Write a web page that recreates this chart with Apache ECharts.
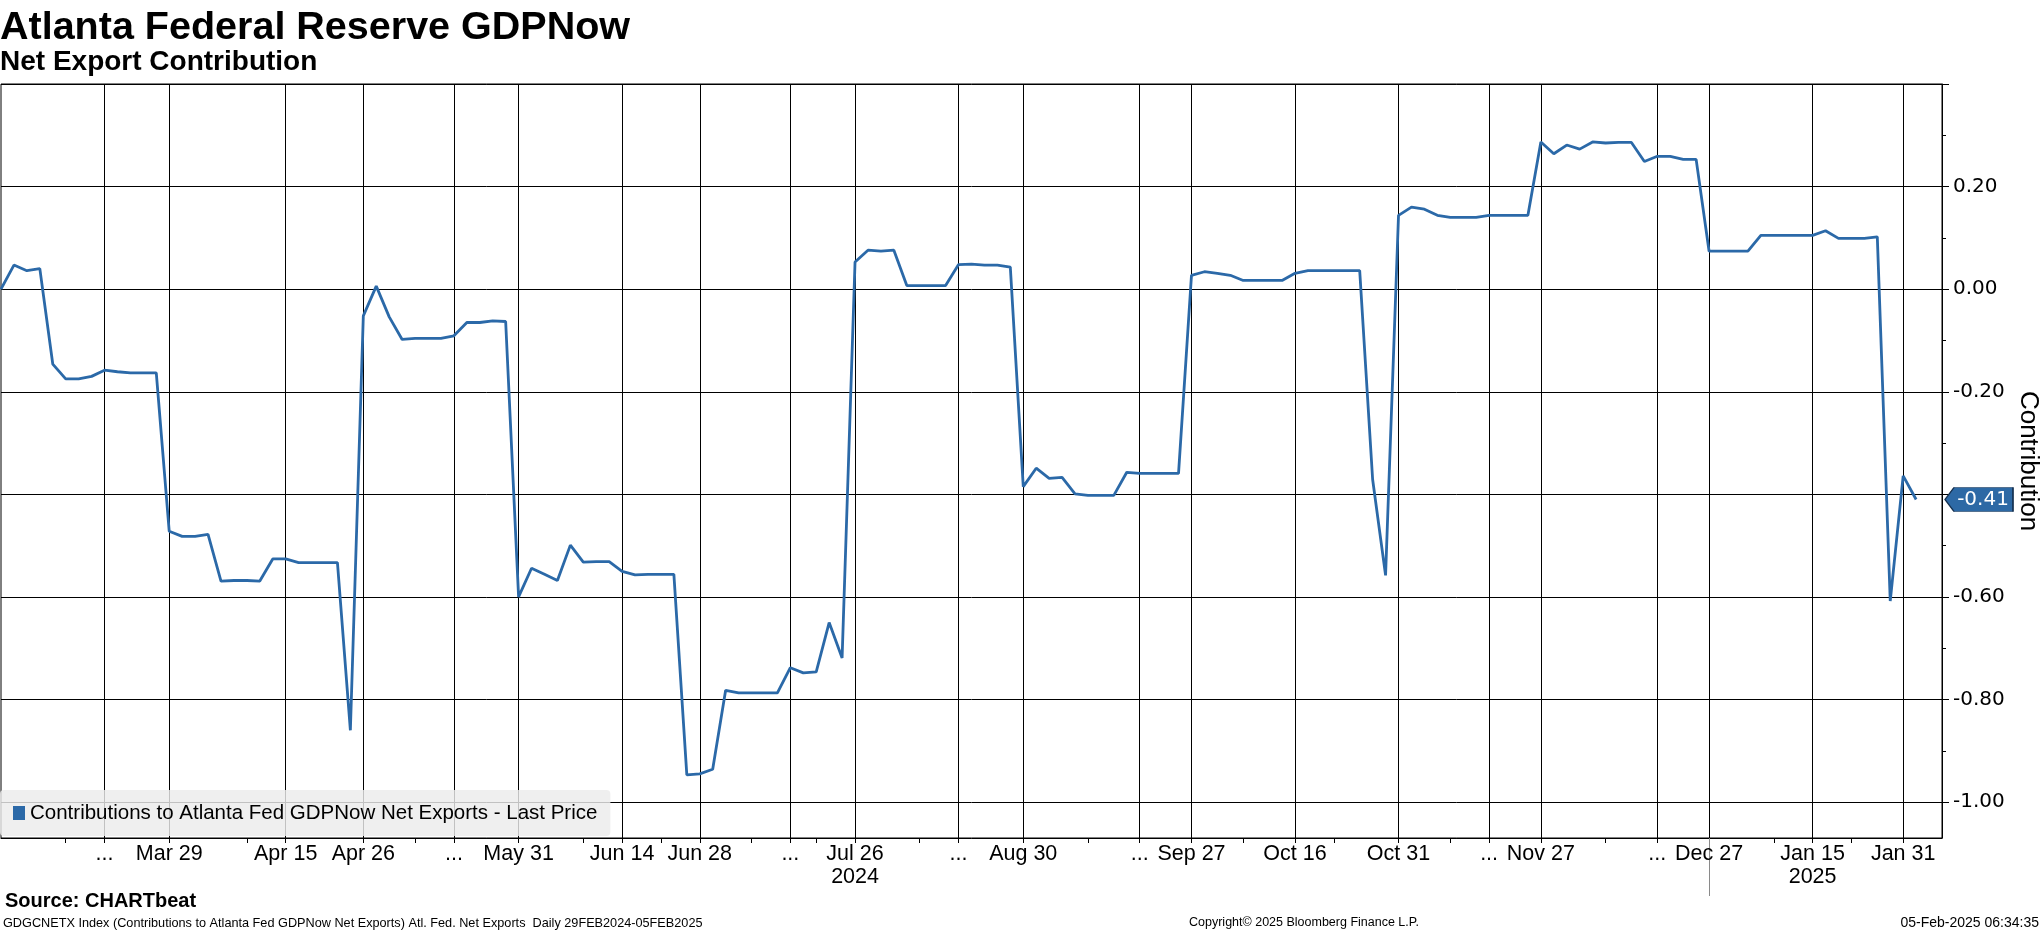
<!DOCTYPE html>
<html>
<head>
<meta charset="utf-8">
<script src="https://cdn.jsdelivr.net/npm/echarts@6/dist/echarts.min.js"></script>
<style>html,body{margin:0;padding:0;background:#fff}#chart{width:2041px;height:932px}</style>
</head>
<body>
<div id="chart"></div>
<script>
// Net export contribution (pp), one value per observation on Bloomberg's compressed daily axis
const values = [
  0.000, 0.047, 0.036, 0.040, -0.146, -0.175, -0.175, -0.170, -0.158, -0.161,
  -0.163, -0.163, -0.163, -0.472, -0.482, -0.482, -0.478, -0.569, -0.568, -0.568,
  -0.569, -0.526, -0.526, -0.533, -0.533, -0.533, -0.533, -0.860, -0.052, 0.006,
  -0.054, -0.098, -0.096, -0.096, -0.096, -0.091, -0.065, -0.065, -0.062, -0.063,
  -0.600, -0.544, -0.556, -0.568, -0.499, -0.532, -0.531, -0.531, -0.550, -0.557,
  -0.556, -0.556, -0.556, -0.947, -0.945, -0.936, -0.782, -0.787, -0.787, -0.787,
  -0.787, -0.738, -0.748, -0.746, -0.650, -0.719, 0.053, 0.076, 0.074, 0.076,
  0.007, 0.007, 0.007, 0.007, 0.048, 0.049, 0.047, 0.047, 0.043, -0.385,
  -0.349, -0.369, -0.367, -0.399, -0.402, -0.402, -0.402, -0.357, -0.359, -0.359,
  -0.359, -0.359, 0.027, 0.034, 0.031, 0.027, 0.017, 0.017, 0.017, 0.017,
  0.031, 0.036, 0.036, 0.036, 0.036, 0.036, -0.371, -0.558, 0.144, 0.160,
  0.156, 0.144, 0.140, 0.140, 0.140, 0.144, 0.144, 0.144, 0.144, 0.287,
  0.264, 0.281, 0.273, 0.287, 0.285, 0.286, 0.286, 0.249, 0.259, 0.259,
  0.253, 0.253, 0.074, 0.074, 0.074, 0.074, 0.105, 0.105, 0.105, 0.105,
  0.105, 0.114, 0.099, 0.099, 0.099, 0.102, -0.608, -0.364, -0.41
];
const lastValue = -0.41;
// x-axis: [observation index, label]
const tickLabels = [
  [8, '...'], [13, 'Mar 29'], [22, 'Apr 15'], [28, 'Apr 26'], [35, '...'],
  [40, 'May 31'], [48, 'Jun 14'], [54, 'Jun 28'], [61, '...'], [66, 'Jul 26\n2024'],
  [74, '...'], [79, 'Aug 30'], [88, '...'], [92, 'Sep 27'], [100, 'Oct 16'],
  [108, 'Oct 31'], [115, '...'], [119, 'Nov 27'], [128, '...'], [132, 'Dec 27'],
  [140, 'Jan 15\n2025'], [147, 'Jan 31']
];
const minorTicks = [5, 19, 32, 45, 51, 58, 63, 71, 84, 96, 103, 112, 124, 137, 143];
const yearBreak = 132;
const axisSlots = values.length + 2;
const yMajorTicks = [-1.0, -0.8, -0.6, -0.4, -0.2, 0.0, 0.2, 0.4];
const yTickLabels = [-1.0, -0.8, -0.6, -0.2, 0.0, 0.2];
const yMinorTicks = [-0.9, -0.7, -0.5, -0.3, -0.1, 0.1, 0.3];
const yMin = -1.07, yMax = 0.40;
const seriesName = 'Contributions to Atlanta Fed GDPNow Net Exports - Last Price';

const categories = [];
for (let i = 0; i < axisSlots; i++) categories.push(String(i));
const labelMap = new Map(tickLabels);
const minorSet = new Set(minorTicks);

const BLUE = '#2b69a8';
const SANS = "'Liberation Sans', Arial, sans-serif";
const DEJAVU = "'DejaVu Sans', Verdana, sans-serif";
const chart = echarts.init(document.getElementById('chart'), null, {renderer: 'canvas'});
chart.setOption({
  animation: false,
  backgroundColor: '#fff',
  title: [
    {text: 'Atlanta Federal Reserve GDPNow', left: 0, top: 8, padding: 0,
     textStyle: {fontFamily: SANS, fontWeight: 'bold', fontSize: 39.5, lineHeight: 39.5, color: '#000'}},
    {text: 'Net Export Contribution', left: 0, top: 48, padding: 0,
     textStyle: {fontFamily: SANS, fontWeight: 'bold', fontSize: 28, lineHeight: 28, color: '#000'}}
  ],
  graphic: [
    {type: 'text', x: 5, y: 901, style: {text: 'Source: CHARTbeat', fontFamily: SANS, fontWeight: 'bold', fontSize: 20, fill: '#000', align: 'left', verticalAlign: 'middle'}},
    {type: 'text', x: 3, y: 923, style: {text: 'GDGCNETX Index (Contributions to Atlanta Fed GDPNow Net Exports) Atl. Fed. Net Exports  Daily 29FEB2024-05FEB2025', fontFamily: SANS, fontSize: 12.7, fill: '#000', align: 'left', verticalAlign: 'middle'}},
    {type: 'text', x: 1304, y: 923, style: {text: 'Copyright\u00a9 2025 Bloomberg Finance L.P.', fontFamily: SANS, fontSize: 12.5, fill: '#000', align: 'center', verticalAlign: 'middle'}},
    {type: 'text', x: 2039, y: 923, style: {text: '05-Feb-2025 06:34:35', fontFamily: SANS, fontSize: 14, fill: '#000', align: 'right', verticalAlign: 'middle'}}
  ],
  legend: {
    left: 0, top: 790, orient: 'horizontal',
    padding: [11, 13, 11, 13],
    itemWidth: 12, itemHeight: 14, icon: 'rect',
    backgroundColor: 'rgba(236,236,236,0.82)', borderRadius: 4,
    textStyle: {fontFamily: SANS, fontSize: 20.5, lineHeight: 24, color: '#000'},
    data: [seriesName]
  },
  grid: {left: 1, right: 99, top: 84, bottom: 94, show: true, borderColor: '#000', borderWidth: 1,
         outerBoundsMode: 'none', containLabel: false},
  xAxis: [
    {
      type: 'category', data: categories, boundaryGap: false, position: 'bottom',
      axisLine: {show: true, onZero: false, lineStyle: {color: '#000', width: 1}},
      axisTick: {show: true, length: 5, lineStyle: {color: '#000'},
        interval: (i) => labelMap.has(i) || minorSet.has(i)},
      axisLabel: {show: true, margin: 5, fontFamily: SANS, fontSize: 21.5, lineHeight: 23, color: '#000',
        interval: (i) => labelMap.has(i),
        formatter: (v, i) => labelMap.get(i) || ''},
      splitLine: {show: true, lineStyle: {color: '#000', width: 1},
        interval: (i) => labelMap.has(i)}
    },
    {
      type: 'category', data: categories, boundaryGap: false, position: 'bottom',
      axisLine: {show: false, onZero: false},
      axisTick: {show: true, length: 58, lineStyle: {color: '#8a8a8a', width: 1},
        interval: (i) => i === yearBreak},
      axisLabel: {show: false},
      splitLine: {show: false}
    }
  ],
  yAxis: [
    {
      type: 'value', position: 'right', min: yMin, max: yMax,
      axisLine: {show: true, onZero: false, lineStyle: {color: '#000', width: 1}},
      axisTick: {show: true, length: 7, customValues: yMajorTicks, lineStyle: {color: '#000'}},
      axisLabel: {show: true, customValues: yTickLabels, margin: 11,
        fontFamily: DEJAVU, fontSize: 20, color: '#000',
        formatter: (v) => v.toFixed(2)},
      splitLine: {show: true, lineStyle: {color: '#000', width: 1}},
      name: 'Contribution', nameLocation: 'middle', nameRotate: -90, nameGap: 67,
      nameTextStyle: {fontFamily: SANS, fontSize: 26, color: '#000'}
    },
    {
      type: 'value', position: 'right', min: yMin, max: yMax,
      axisLine: {show: false, onZero: false},
      axisTick: {show: true, length: 4, customValues: yMinorTicks, lineStyle: {color: '#000'}},
      axisLabel: {show: false},
      splitLine: {show: false}
    }
  ],
  series: [{
    name: seriesName, type: 'line', data: values, xAxisIndex: 0, yAxisIndex: 0,
    symbol: 'none', clip: false,
    lineStyle: {color: BLUE, width: 2.8},
    itemStyle: {color: BLUE},
    markPoint: {
      symbol: 'path://M0,12L9,0L68,0L68,24L9,24Z',
      symbolSize: [68, 24], symbolKeepAspect: false, symbolOffset: [37, 0],
      itemStyle: {color: '#2d69a5', borderColor: '#15304f', borderWidth: 1},
      label: {show: true, position: 'inside', offset: [4, 0], color: '#fff',
        fontFamily: DEJAVU, fontSize: 20,
        formatter: () => lastValue.toFixed(2)},
      data: [{coord: [axisSlots - 1, lastValue], value: lastValue}]
    }
  }]
});
</script>
</body>
</html>
